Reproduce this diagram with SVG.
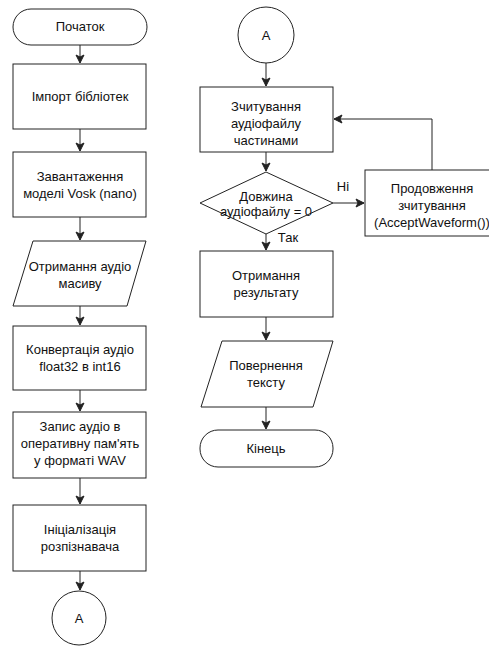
<svg xmlns="http://www.w3.org/2000/svg" width="489" height="646" viewBox="0 0 489 646">
<style>
.s{fill:#fff;stroke:#222;stroke-width:1}
.t{font-family:"Liberation Sans",Arial,sans-serif;font-size:13px;fill:#111;text-anchor:middle}
.c{fill:none;stroke:#222;stroke-width:1}
</style>
<defs>
<marker id="a" viewBox="0 0 10 10" refX="9" refY="5" markerWidth="10" markerHeight="10" markerUnits="userSpaceOnUse" orient="auto">
<path d="M1,1 L9,5 L1,9 L3,5 Z" fill="#222" stroke="#222" stroke-width="1"/>
</marker>
</defs>
<rect width="489" height="646" fill="#fff"/>
<g id="connectors">
<path class="c" d="M80,45 V63" marker-end="url(#a)"/>
<path class="c" d="M80,129 V151" marker-end="url(#a)"/>
<path class="c" d="M80,217 V240" marker-end="url(#a)"/>
<path class="c" d="M80,306 V325" marker-end="url(#a)"/>
<path class="c" d="M80,390 V411" marker-end="url(#a)"/>
<path class="c" d="M80,478 V504" marker-end="url(#a)"/>
<path class="c" d="M80,571 V590" marker-end="url(#a)"/>
<path class="c" d="M266,63 V86" marker-end="url(#a)"/>
<path class="c" d="M266,152 V171" marker-end="url(#a)"/>
<path class="c" d="M266,234 V250" marker-end="url(#a)"/>
<path class="c" d="M266,317 V340" marker-end="url(#a)"/>
<path class="c" d="M266,407 V429" marker-end="url(#a)"/>
<path class="c" d="M333,203 H364" marker-end="url(#a)"/>
<path class="c" d="M432,170 V119 H334" marker-end="url(#a)"/>
<text class="t" x="343" y="191">Ні</text>
<text class="t" x="288" y="242">Так</text>
</g>
<g id="start"><rect class="s" x="13" y="9" width="134" height="36" rx="18"/><text class="t" x="80" y="31">Початок</text></g>
<g id="import"><rect class="s" x="13" y="64" width="133" height="65"/><text class="t" x="80" y="101">Імпорт бібліотек</text></g>
<g id="loadmodel"><rect class="s" x="13" y="152" width="133" height="65"/><text class="t" x="80" y="181">Завантаження</text><text class="t" x="80" y="198">моделі Vosk (nano)</text></g>
<g id="getaudio"><path class="s" d="M33,241 H146 L127,306 H13 Z"/><text class="t" x="80" y="271">Отримання аудіо</text><text class="t" x="80" y="288">масиву</text></g>
<g id="convert"><rect class="s" x="13" y="326" width="133" height="64"/><text class="t" x="80" y="354">Конвертація аудіо</text><text class="t" x="80" y="371">float32 в int16</text></g>
<g id="write"><rect class="s" x="13" y="412" width="133" height="66"/><text class="t" x="80" y="431">Запис аудіо в</text><text class="t" x="80" y="448">оперативну пам'ять</text><text class="t" x="80" y="465">у форматі WAV</text></g>
<g id="init"><rect class="s" x="13" y="505" width="133" height="66"/><text class="t" x="80" y="534">Ініціалізація</text><text class="t" x="80" y="551">розпізнавача</text></g>
<g id="connA1"><circle class="s" cx="79" cy="618" r="27"/><text class="t" x="79" y="623">A</text></g>
<g id="connA2"><circle class="s" cx="266" cy="35" r="28"/><text class="t" x="266" y="40">A</text></g>
<g id="read"><rect class="s" x="200" y="87" width="133" height="65"/><text class="t" x="266" y="111">Зчитування</text><text class="t" x="266" y="128">аудіофайлу</text><text class="t" x="266" y="145">частинами</text></g>
<g id="decision"><path class="s" d="M266,172 L333,203 L266,234 L200,203 Z"/><text class="t" x="266" y="201">Довжина</text><text class="t" x="266" y="216">аудіофайлу = 0</text></g>
<g id="continue"><rect class="s" x="365" y="170" width="133" height="66"/><text class="t" x="432" y="193">Продовження</text><text class="t" x="432" y="210">зчитування</text><text class="t" x="432" y="227">(AcceptWaveform())</text></g>
<g id="result"><rect class="s" x="200" y="251" width="133" height="66"/><text class="t" x="266" y="280">Отримання</text><text class="t" x="266" y="297">результату</text></g>
<g id="return"><path class="s" d="M222,341 H333 L313,407 H201 Z"/><text class="t" x="266" y="370">Повернення</text><text class="t" x="266" y="387">тексту</text></g>
<g id="end"><rect class="s" x="200" y="430" width="133" height="37" rx="18"/><text class="t" x="266" y="453">Кінець</text></g>
</svg>
